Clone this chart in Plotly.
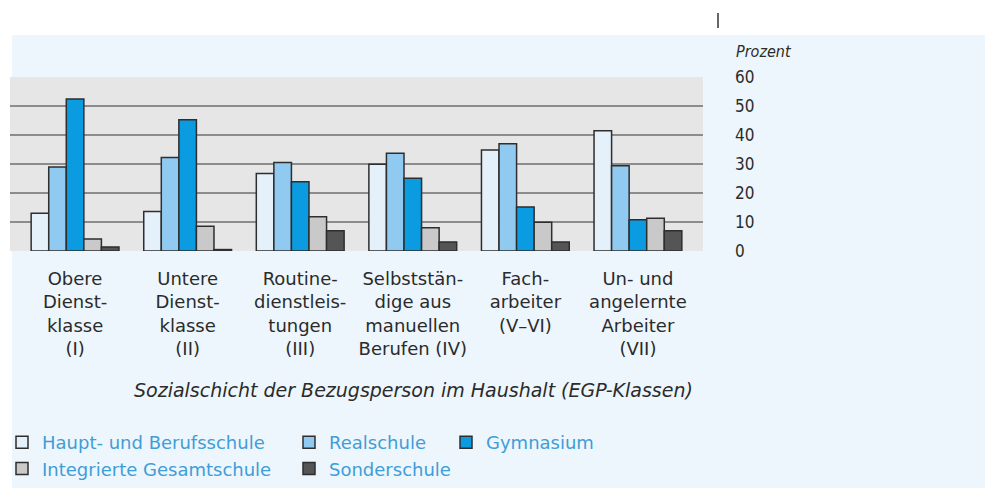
import plotly.graph_objects as go

categories = [
    "Obere<br>Dienst-<br>klasse<br>(I)",
    "Untere<br>Dienst-<br>klasse<br>(II)",
    "Routine-<br>dienstleis-<br>tungen<br>(III)",
    "Selbstst\u00e4n-<br>dige aus<br>manuellen<br>Berufen (IV)",
    "Fach-<br>arbeiter<br>(V\u2013VI)",
    "Un- und<br>angelernte<br>Arbeiter<br>(VII)",
]
series_names = ["Haupt- und Berufsschule", "Realschule", "Gymnasium",
                "Integrierte Gesamtschule", "Sonderschule"]
haupt = [13.0, 13.6, 26.7, 29.9, 34.8, 41.5]
real = [29.0, 32.2, 30.5, 33.7, 37.0, 29.4]
gym = [52.4, 45.3, 23.9, 25.1, 15.2, 10.8]
igs = [4.1, 8.5, 11.8, 8.0, 9.9, 11.3]
sonder = [1.4, 0.5, 7.0, 3.1, 3.1, 7.0]
y_ticks = [0, 10, 20, 30, 40, 50, 60]

values = [haupt, real, gym, igs, sonder]
colors = ["#e4f0fa", "#90caf0", "#0a9be0", "#c9c9c9", "#555555"]
legends = ["legend", "legend2", "legend3", "legend", "legend2"]

fig = go.Figure()
for name, vals, col, lg in zip(series_names, values, colors, legends):
    fig.add_trace(go.Bar(
        x=categories, y=vals, name=name,
        marker=dict(color=col, line=dict(color="#2e2e2e", width=1.5)),
        legend=lg,
    ))

W, H = 997, 488
L, R, T, B = 10, 294, 77, 237
pw, ph = W - L - R, H - T - B

def px_x(p):
    return (p - L) / pw

def px_y(p):
    return (H - B - p) / ph

def cx(p):
    return p / W

def cy(p):
    return (H - p) / H

text_col = "#2b2b2b"
leg_col = "#3f9dd8"
leg_font = dict(family="DejaVu Sans", size=18, color=leg_col)

def leg(xpx):
    return dict(orientation="v", xref="container", yref="container",
                x=cx(xpx), y=cy(424), xanchor="left", yanchor="top",
                bgcolor="rgba(0,0,0,0)", font=leg_font, tracegroupgap=0)

fig.update_layout(
    width=W, height=H, autosize=False,
    margin=dict(l=L, r=R, t=T, b=B, pad=0, autoexpand=False),
    paper_bgcolor="white",
    plot_bgcolor="rgba(0,0,0,0)",
    barmode="group", bargap=0.22, bargroupgap=0,
    showlegend=True,
    font=dict(family="DejaVu Sans", color=text_col),
    shapes=[
        dict(type="rect", xref="paper", yref="paper", layer="below",
             x0=px_x(12), x1=px_x(985), y0=px_y(488), y1=px_y(35),
             fillcolor="#edf6fc", line=dict(width=0)),
        dict(type="rect", xref="paper", yref="paper", layer="below",
             x0=0, x1=1, y0=0, y1=1,
             fillcolor="#e6e6e6", line=dict(width=0)),
        dict(type="line", xref="paper", yref="paper",
             x0=px_x(718), x1=px_x(718), y0=px_y(13), y1=px_y(28),
             line=dict(color="#333333", width=1.5)),
    ],
    xaxis=dict(
        range=[-0.578, 5.578], showgrid=False, zeroline=False, showline=False,
        ticks="", tickfont=dict(family="DejaVu Sans", size=18, color=text_col),
        fixedrange=True, tickangle=0, automargin=False, ticklabelstandoff=15,
    ),
    yaxis=dict(
        side="right", range=[0, 60], tickvals=y_ticks,
        showgrid=True, gridcolor="#8c8c8c", gridwidth=1.5,
        zeroline=False, showline=False, ticks="", automargin=False,
        ticklabelstandoff=31, fixedrange=True,
        tickfont=dict(family="Liberation Sans Narrow, DejaVu Sans Condensed, sans-serif",
                      size=17, color=text_col),
    ),
    legend=leg(2),
    legend2=leg(289),
    legend3=leg(446),
    annotations=[
        dict(text="<i>Prozent</i>", xref="paper", yref="paper",
             x=px_x(734), y=px_y(52), xanchor="left", yanchor="middle",
             showarrow=False,
             font=dict(family="DejaVu Sans Condensed, DejaVu Sans", size=16, color=text_col)),
        dict(text="<i>Sozialschicht der Bezugsperson im Haushalt (EGP-Klassen)</i>",
             xref="paper", yref="paper", x=px_x(413), y=px_y(390),
             xanchor="center", yanchor="middle", showarrow=False,
             font=dict(family="DejaVu Sans", size=19, color=text_col)),
    ],
)

fig.write_html("out.html", config={"displayModeBar": False},
               post_script="document.body.style.margin='0px';")
